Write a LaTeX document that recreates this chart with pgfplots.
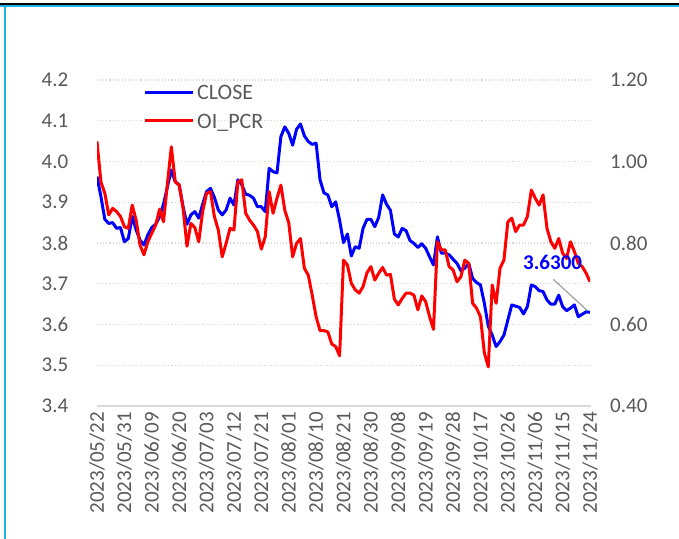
\documentclass[border=0pt]{standalone}
\usepackage{pgfplots}
\pgfplotsset{compat=1.18}
\usepackage{pgfplotstable}
\usepackage{fontspec}
\setmainfont{Carlito}

\definecolor{axisgray}{HTML}{595959}
\definecolor{gridgray}{HTML}{D9D9D9}
\definecolor{framecyan}{HTML}{1FB3E8}
\definecolor{leadgray}{HTML}{A6A6A6}

% i = trading day index (0 = 2023/05/22), close = left axis, pcr = right axis
\pgfplotstableread{
i close pcr
0 3.963 1.049
1 3.914 0.950
2 3.858 0.922
3 3.848 0.869
4 3.850 0.885
5 3.836 0.877
6 3.838 0.865
7 3.803 0.840
8 3.811 0.836
9 3.865 0.893
10 3.832 0.856
11 3.807 0.795
12 3.795 0.771
13 3.820 0.803
14 3.838 0.824
15 3.846 0.844
16 3.865 0.883
17 3.895 0.852
18 3.938 0.946
19 3.979 1.036
20 3.950 0.950
21 3.943 0.942
22 3.889 0.885
23 3.846 0.792
24 3.869 0.848
25 3.877 0.838
26 3.861 0.803
27 3.895 0.877
28 3.926 0.922
29 3.934 0.926
30 3.912 0.865
31 3.881 0.832
32 3.869 0.766
33 3.881 0.799
34 3.910 0.836
35 3.893 0.832
36 3.955 0.950
37 3.943 0.955
38 3.920 0.873
39 3.917 0.856
40 3.910 0.844
41 3.889 0.828
42 3.889 0.785
43 3.877 0.815
44 3.983 0.926
45 3.975 0.873
46 3.972 0.910
47 4.061 0.942
48 4.085 0.880
49 4.069 0.850
50 4.040 0.766
51 4.079 0.799
52 4.092 0.811
53 4.063 0.738
54 4.049 0.721
55 4.042 0.672
56 4.045 0.619
57 3.955 0.585
58 3.923 0.585
59 3.918 0.582
60 3.889 0.552
61 3.901 0.546
62 3.856 0.523
63 3.801 0.758
64 3.822 0.746
65 3.768 0.701
66 3.791 0.685
67 3.787 0.677
68 3.836 0.693
69 3.858 0.727
70 3.858 0.742
71 3.840 0.709
72 3.863 0.726
73 3.918 0.740
74 3.895 0.721
75 3.880 0.723
76 3.822 0.662
77 3.815 0.648
78 3.836 0.664
79 3.830 0.677
80 3.806 0.677
81 3.799 0.672
82 3.789 0.636
83 3.798 0.670
84 3.787 0.656
85 3.766 0.619
86 3.746 0.588
87 3.815 0.803
88 3.775 0.783
89 3.775 0.783
90 3.771 0.742
91 3.760 0.734
92 3.750 0.705
93 3.732 0.717
94 3.738 0.758
95 3.750 0.750
96 3.713 0.652
97 3.703 0.640
98 3.697 0.619
99 3.652 0.530
100 3.596 0.496
101 3.574 0.697
102 3.546 0.652
103 3.558 0.738
104 3.574 0.758
105 3.611 0.852
106 3.648 0.861
107 3.645 0.828
108 3.642 0.844
109 3.626 0.844
110 3.644 0.865
111 3.697 0.930
112 3.693 0.910
113 3.683 0.893
114 3.681 0.918
115 3.660 0.836
116 3.650 0.803
117 3.650 0.787
118 3.672 0.811
119 3.644 0.775
120 3.634 0.762
121 3.640 0.803
122 3.648 0.779
123 3.619 0.750
124 3.625 0.742
125 3.631 0.726
126 3.630 0.705
}\datatable

\pgfplotsset{
  base/.style={
    at={(97bp,133bp)}, anchor=south west,
    scale only axis, width=493bp, height=326bp,
    xmin=0, xmax=126,
    major tick length=0pt,
    tick label style={font=\fontsize{21bp}{21bp}\selectfont, text=axisgray},
    /pgf/number format/assume math mode=true,
  },
}

\begin{document}
\begin{tikzpicture}[x=1bp,y=1bp]
\path[use as bounding box] (0,0) rectangle (679,539);

% frame of the chart area
\fill[black] (0,533.7) rectangle (679,536.3);
\fill[framecyan] (0,532) rectangle (679,533.7);
\fill[framecyan] (3.5,0) rectangle (5.5,533.7);

\begin{axis}[base,
  ymin=3.4, ymax=4.2,
  axis x line*=bottom, axis y line*=left,
  x axis line style={-, gridgray, line width=1.5bp},
  y axis line style={draw=none},
  ymajorgrids,
  grid style={gridgray, line width=1.1bp, dash pattern=on 1.1bp off 2bp},
  ytick={3.4,3.5,3.6,3.7,3.8,3.9,4.0,4.1,4.2},
  yticklabel style={/pgf/number format/.cd, fixed, fixed zerofill, precision=1,
    /tikz/.cd, anchor=east, inner sep=0pt, xshift=-28.5bp},
  xtick={0,7,...,126},
  xticklabels={2023/05/22,2023/05/31,2023/06/09,2023/06/20,2023/07/03,2023/07/12,
    2023/07/21,2023/08/01,2023/08/10,2023/08/21,2023/08/30,2023/09/08,2023/09/19,
    2023/09/28,2023/10/17,2023/10/26,2023/11/06,2023/11/15,2023/11/24},
  xticklabel style={rotate=90, anchor=east, inner sep=0pt},
  xticklabel shift=6bp,
]
\addplot[blue, line width=3bp, line join=round] table[x=i, y=close] {\datatable};
\end{axis}

\begin{axis}[base,
  ymin=0.4, ymax=1.2,
  hide x axis,
  axis y line*=right,
  y axis line style={draw=none},
  ytick={0.4,0.6,0.8,1.0,1.2},
  yticklabel style={/pgf/number format/.cd, fixed, fixed zerofill, precision=2,
    /tikz/.cd, anchor=west, inner sep=0pt, xshift=20bp},
]
\addplot[red, line width=3bp, line join=round] table[x=i, y=pcr] {\datatable};
\end{axis}

% legend
\draw[blue, line width=3bp] (145,446.7) -- (193,446.7);
\node[anchor=base west, inner sep=0pt, text=axisgray, font=\fontsize{22bp}{22bp}\selectfont] at (197,439.7) {CLOSE};
\draw[red, line width=3bp] (145,418) -- (193,418);
\node[anchor=base west, inner sep=0pt, text=axisgray, font=\fontsize{22bp}{22bp}\selectfont] at (197,410.7) {OI\_PCR};

% last value label
\draw[leadgray, line width=1.3bp] (553.3,259.7) -- (586.7,229);
\node[anchor=base west, inner sep=0pt, text=blue, font=\bfseries\fontsize{21bp}{21bp}\selectfont] at (523,269) {3.6300};
\end{tikzpicture}
\end{document}
